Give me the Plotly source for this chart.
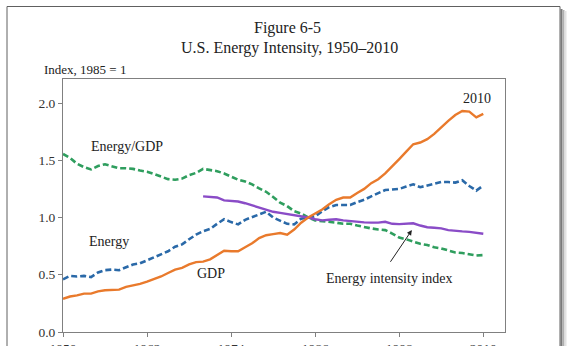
import plotly.graph_objects as go

# ---- data (index, 1985 = 1) ----
years = list(range(1950, 2011))

gdp = [0.29, 0.31, 0.32, 0.335, 0.335, 0.355, 0.365, 0.37, 0.37, 0.395,
       0.405, 0.42, 0.44, 0.46, 0.485, 0.515, 0.545, 0.56, 0.59, 0.61,
       0.615, 0.635, 0.67, 0.71, 0.705, 0.705, 0.74, 0.775, 0.82, 0.845,
       0.855, 0.865, 0.85, 0.895, 0.955, 1.00, 1.035, 1.07, 1.115, 1.155,
       1.175, 1.175, 1.215, 1.25, 1.30, 1.335, 1.385, 1.445, 1.51, 1.575,
       1.64, 1.655, 1.685, 1.73, 1.79, 1.845, 1.895, 1.93, 1.925, 1.875,
       1.905]

energy = [0.46, 0.49, 0.485, 0.49, 0.48, 0.52, 0.54, 0.545, 0.54, 0.565,
          0.59, 0.60, 0.625, 0.65, 0.675, 0.705, 0.745, 0.765, 0.81, 0.85,
          0.88, 0.90, 0.945, 0.985, 0.96, 0.94, 0.98, 1.005, 1.03, 1.05,
          1.00, 0.975, 0.945, 0.94, 0.99, 1.00, 1.01, 1.055, 1.09, 1.11,
          1.11, 1.11, 1.135, 1.155, 1.185, 1.215, 1.24, 1.245, 1.25, 1.27,
          1.29, 1.265, 1.28, 1.29, 1.31, 1.31, 1.305, 1.325, 1.275, 1.235,
          1.28]

energy_per_gdp = [1.555, 1.52, 1.47, 1.44, 1.42, 1.45, 1.465, 1.45, 1.43, 1.43,
                  1.425, 1.41, 1.40, 1.38, 1.36, 1.335, 1.33, 1.34, 1.37, 1.39,
                  1.425, 1.415, 1.405, 1.385, 1.36, 1.33, 1.315, 1.29, 1.255, 1.225,
                  1.18, 1.13, 1.10, 1.055, 1.035, 1.00, 0.975, 0.97, 0.965, 0.955,
                  0.945, 0.945, 0.93, 0.915, 0.905, 0.895, 0.89, 0.86, 0.825, 0.81,
                  0.79, 0.77, 0.76, 0.74, 0.73, 0.715, 0.695, 0.69, 0.68, 0.668,
                  0.672]

intensity_years = list(range(1970, 2011))
intensity_index = [1.185, 1.18, 1.175, 1.15, 1.145, 1.14, 1.125, 1.105, 1.085, 1.07,
                   1.05, 1.04, 1.03, 1.025, 1.015, 1.00, 0.985, 0.975, 0.98, 0.985,
                   0.975, 0.968, 0.962, 0.958, 0.955, 0.955, 0.963, 0.945, 0.942, 0.947,
                   0.95, 0.93, 0.915, 0.91, 0.905, 0.89, 0.882, 0.879, 0.875, 0.865,
                   0.858]

x_ticks = [1950, 1962, 1974, 1986, 1998, 2010]
y_ticks = [0.0, 0.5, 1.0, 1.5, 2.0]

# ---- styling ----
SERIF = "Liberation Serif, Times New Roman, serif"
W, H = 568, 346
L, R, T, B = 63, 505, 79, 332          # plot box in pixels


def px(xp):
    return (xp - L) / (R - L)


def py(yp):
    return (B - yp) / (B - T)


fig = go.Figure()

fig.add_trace(go.Scatter(x=years, y=energy_per_gdp, mode="lines",
                         line=dict(color="#2F9E5E", width=2.6, dash="6px,3px")))
fig.add_trace(go.Scatter(x=years, y=energy, mode="lines",
                         line=dict(color="#2A69A8", width=2.6, dash="6px,3px")))
fig.add_trace(go.Scatter(x=intensity_years, y=intensity_index, mode="lines",
                         line=dict(color="#8A4CC7", width=2.4)))
fig.add_trace(go.Scatter(x=years, y=gdp, mode="lines",
                         line=dict(color="#E97A2C", width=2.4)))

axis_common = dict(showgrid=False, zeroline=False, showline=True, mirror=True,
                   linecolor="#808080", linewidth=1, ticks="outside", ticklen=4,
                   tickcolor="#808080", automargin=False,
                   tickfont=dict(family=SERIF, size=13.5, color="#333"))

fig.update_xaxes(range=[1950, 2013.1], tickvals=x_ticks, **axis_common)
fig.update_yaxes(range=[0, 2.21], tickvals=y_ticks, tickformat=".1f", **axis_common)

annots = [
    dict(x=1959.1, y=1.62, text="Energy/GDP"),
    dict(x=1956.5, y=0.79, text="Energy"),
    dict(x=1971.1, y=0.515, text="GDP"),
    dict(x=2009.1, y=2.04, text="2010"),
    dict(x=1996.6, y=0.47, text="Energy intensity index"),
]
for a in annots:
    fig.add_annotation(x=a["x"], y=a["y"], xref="x", yref="y", text=a["text"],
                       showarrow=False, font=dict(family=SERIF, size=14, color="#222"))

# arrow pointing at the energy intensity index line
fig.add_annotation(x=1999.8, y=0.89, ax=1996.6, ay=0.60, xref="x", yref="y",
                   axref="x", ayref="y", text="", showarrow=True,
                   arrowhead=2, arrowsize=1, arrowwidth=1, arrowcolor="#222")

# titles
fig.add_annotation(x=px(287), y=py(28), xref="paper", yref="paper", text="Figure 6-5",
                   xanchor="center", yanchor="middle", showarrow=False,
                   font=dict(family=SERIF, size=16, color="#222"))
fig.add_annotation(x=px(289), y=py(48), xref="paper", yref="paper",
                   text="U.S. Energy Intensity, 1950\u20132010",
                   xanchor="center", yanchor="middle", showarrow=False,
                   font=dict(family=SERIF, size=16, color="#222"))
fig.add_annotation(x=px(42), y=py(69), xref="paper", yref="paper", text="Index, 1985 = 1",
                   xanchor="left", yanchor="middle", showarrow=False,
                   font=dict(family=SERIF, size=13, color="#222"))

# page frame with a soft shadow on the right
shapes = [
    dict(type="rect", xref="paper", yref="paper", x0=px(560.5), x1=px(562.5),
         y0=py(9), y1=py(350), fillcolor="#7a7a7a", line=dict(width=0)),
    dict(type="rect", xref="paper", yref="paper", x0=px(562.5), x1=px(564.5),
         y0=py(10), y1=py(350), fillcolor="#b0b0b0", line=dict(width=0)),
    dict(type="rect", xref="paper", yref="paper", x0=px(564.5), x1=px(566.5),
         y0=py(11), y1=py(350), fillcolor="#e2e2e2", line=dict(width=0)),
    dict(type="rect", xref="paper", yref="paper", x0=px(7), x1=px(560),
         y0=py(6.5), y1=py(352), line=dict(color="#606060", width=1)),
]
fig.update_layout(shapes=shapes)

fig.update_layout(
    width=W, height=H,
    margin=dict(l=L, r=W - R, t=T, b=H - B),
    paper_bgcolor="white", plot_bgcolor="white",
    showlegend=False,
)

fig.write_html("out.html")
